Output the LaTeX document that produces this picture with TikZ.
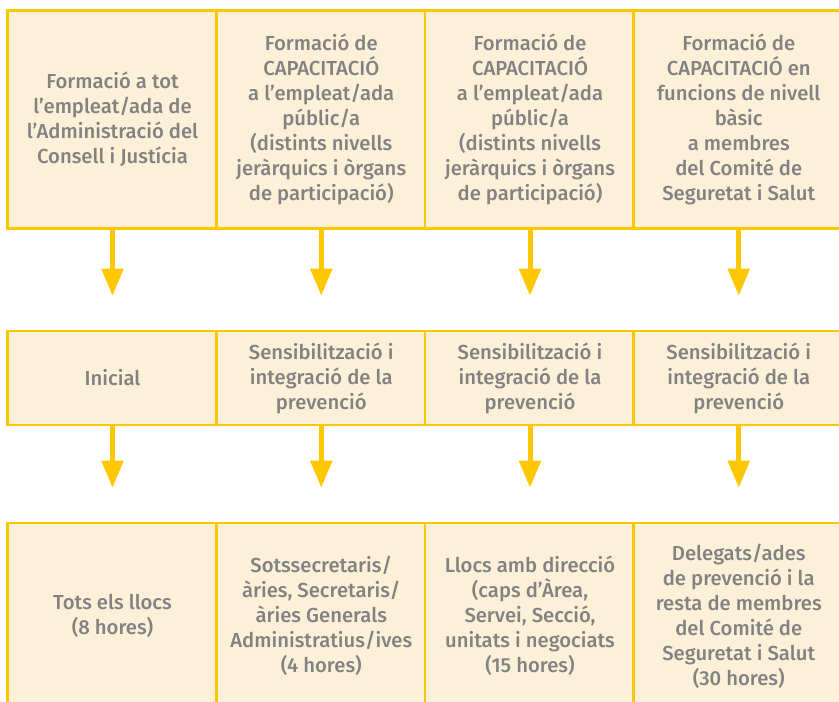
\documentclass[tikz,border=0pt]{standalone}
\usepackage{fontspec}
\setmainfont{Fira Sans Medium}
\usepackage{tikz}
\usetikzlibrary{arrows.meta}
\usepackage{xcolor}
\definecolor{groc}{RGB}{255,199,0}
\definecolor{crema}{RGB}{253,240,216}
\definecolor{gris}{RGB}{130,130,130}
\tikzset{%
    caixa/.style={%
        draw=groc, line width=1.9pt, fill=crema, text=gris,
        minimum width=157.5pt, inner sep=0pt, align=center,
        font=\fontsize{15.2}{18.75}\selectfont
    },
    fletxa/.style={%
        draw=groc, line width=3.75pt,
        -{Triangle[width=15.75pt,length=20.25pt]}, shorten >=25.5pt
    }
}

\begin{document}
\begin{tikzpicture}[x=0.75pt,y=-0.75pt]
    \clip (0,0) rectangle (839,701);
    \fill[white] (0,0) rectangle (839,701);
    % primera fila
    \node[caixa,minimum height=163.5pt] (form1) at (112.5,119.5) {Formació a tot\\ l’empleat/ada de\\ l’Administració del\\ Consell i Justícia};
    \node[caixa,minimum height=163.5pt] (form2) at (321.25,119.5) {Formació de\\ CAPACITACIÓ\\ a l’empleat/ada\\ públic/a\\ (distints nivells\\ jeràrquics i òrgans\\ de participació)};
    \node[caixa,minimum height=163.5pt] (form3) at (530,119.5) {Formació de\\ CAPACITACIÓ\\ a l’empleat/ada\\ públic/a\\ (distints nivells\\ jeràrquics i òrgans\\ de participació)};
    \node[caixa,minimum height=163.5pt] (form4) at (738.75,119.5) {Formació de\\ CAPACITACIÓ en\\ funcions de nivell\\ bàsic\\ a membres\\ del Comité de\\ Seguretat i Salut};
    % segona fila
    \node[caixa,minimum height=70.5pt] (niv1) at (112.5,378) {Inicial};
    \node[caixa,minimum height=70.5pt] (niv2) at (321.25,378) {Sensibilització i\\ integració de la\\ prevenció};
    \node[caixa,minimum height=70.5pt] (niv3) at (530,378) {Sensibilització i\\ integració de la\\ prevenció};
    \node[caixa,minimum height=70.5pt] (niv4) at (738.75,378) {Sensibilització i\\ integració de la\\ prevenció};
    % tercera fila
    \node[caixa,minimum height=139.5pt] (dest1) at (112.5,616) {Tots els llocs\\ (8 hores)};
    \node[caixa,minimum height=139.5pt] (dest2) at (321.25,616) {Sotssecretaris/\\ àries, Secretaris/\\ àries Generals\\ Administratius/ives\\ (4 hores)};
    \node[caixa,minimum height=139.5pt] (dest3) at (530,616) {Llocs amb direcció\\ (caps d’Àrea,\\ Servei, Secció,\\ unitats i negociats\\ (15 hores)};
    \node[caixa,minimum height=139.5pt] (dest4) at (738.75,616) {Delegats/ades\\ de prevenció i la\\ resta de membres\\ del Comité de\\ Seguretat i Salut\\ (30 hores)};
    % fletxes
    \draw[fletxa] (form1.south) -- (niv1.north);
    \draw[fletxa] (form2.south) -- (niv2.north);
    \draw[fletxa] (form3.south) -- (niv3.north);
    \draw[fletxa] (form4.south) -- (niv4.north);
    \draw[fletxa] (niv1.south) -- (dest1.north);
    \draw[fletxa] (niv2.south) -- (dest2.north);
    \draw[fletxa] (niv3.south) -- (dest3.north);
    \draw[fletxa] (niv4.south) -- (dest4.north);
\end{tikzpicture}
\end{document}
